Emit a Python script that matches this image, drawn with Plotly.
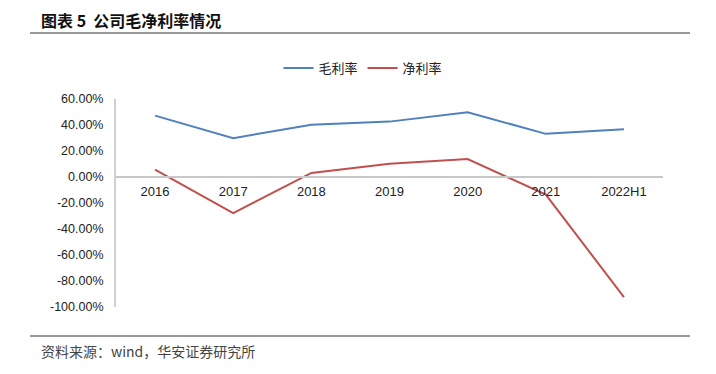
import plotly.graph_objects as go

categories = ["2016", "2017", "2018", "2019", "2020", "2021", "2022H1"]
gross_margin = [47.2, 29.9, 40.1, 42.6, 49.8, 33.2, 36.8]
net_margin = [5.6, -27.8, 3.1, 10.2, 13.8, -13.5, -92.4]
y_ticks = [60, 40, 20, 0, -20, -40, -60, -80, -100]
y_tick_text = ["60.00%", "40.00%", "20.00%", "0.00%", "-20.00%", "-40.00%", "-60.00%", "-80.00%", "-100.00%"]

OFF = 8  # page body margin
W, H = 716 - 2 * OFF, 374 - 2 * OFF
# desired page-pixel layout of the plot area
PL, PR, PT, PB = 116, 663, 99, 307
ML, MT = PL - OFF, PT - OFF
MR, MB = W - (PR - OFF), H - (PB - OFF)

fig = go.Figure()
fig.add_trace(go.Scatter(x=categories, y=gross_margin, mode="lines", name="毛利率",
                         line=dict(color="#4F81BD", width=2)))
fig.add_trace(go.Scatter(x=categories, y=net_margin, mode="lines", name="净利率",
                         line=dict(color="#C0504D", width=2)))

pw = PR - PL
ph = PB - PT
def px_x(x):
    return (x - PL) / pw
def px_y(y):
    return (PB - y) / ph

fig.update_layout(
    width=W, height=H,
    margin=dict(l=ML, r=MR, t=MT, b=MB, autoexpand=False),
    paper_bgcolor="white", plot_bgcolor="white",
    font=dict(family="Arial, Liberation Sans, sans-serif", size=12, color="#222"),
    showlegend=True,
    legend=dict(orientation="h", x=px_x(363), xanchor="center", y=px_y(68), yanchor="middle",
                yref="paper", xref="paper", font=dict(size=13, family="Noto Sans CJK SC"),
                itemwidth=30),
    xaxis=dict(type="category", anchor="free", position=0.625, showline=True,
               linecolor="#C8C8C8", linewidth=2, showgrid=False, ticks="",
               range=[-0.5, 6.5], tickfont=dict(size=13, color="#222"), automargin=False,
               ticklabelstandoff=2),
    yaxis=dict(range=[-100, 60], tickvals=y_ticks, ticktext=y_tick_text,
               showgrid=False, zeroline=False, showline=True, linecolor="#D0D0D0",
               linewidth=2, ticks="", tickfont=dict(size=12.5, color="#222"), automargin=False,
               ticklabelstandoff=8),
)

fig.add_annotation(text="<b>图表 5  公司毛净利率情况</b>", xref="paper", yref="paper",
                   x=px_x(39), y=px_y(20), xanchor="left", yanchor="middle", showarrow=False,
                   font=dict(family="Noto Sans CJK SC", size=16, color="#111"))
fig.add_annotation(text="资料来源：wind，华安证券研究所", xref="paper", yref="paper",
                   x=px_x(39), y=px_y(351), xanchor="left", yanchor="middle", showarrow=False,
                   font=dict(family="Noto Sans CJK SC", size=14, color="#444"))
fig.add_shape(type="line", xref="paper", yref="paper", x0=px_x(30), x1=px_x(690),
              y0=px_y(33), y1=px_y(33), line=dict(color="#333", width=1))
fig.add_shape(type="line", xref="paper", yref="paper", x0=px_x(30), x1=px_x(690),
              y0=px_y(336), y1=px_y(336), line=dict(color="#333", width=1))

fig.write_html("out.html")
